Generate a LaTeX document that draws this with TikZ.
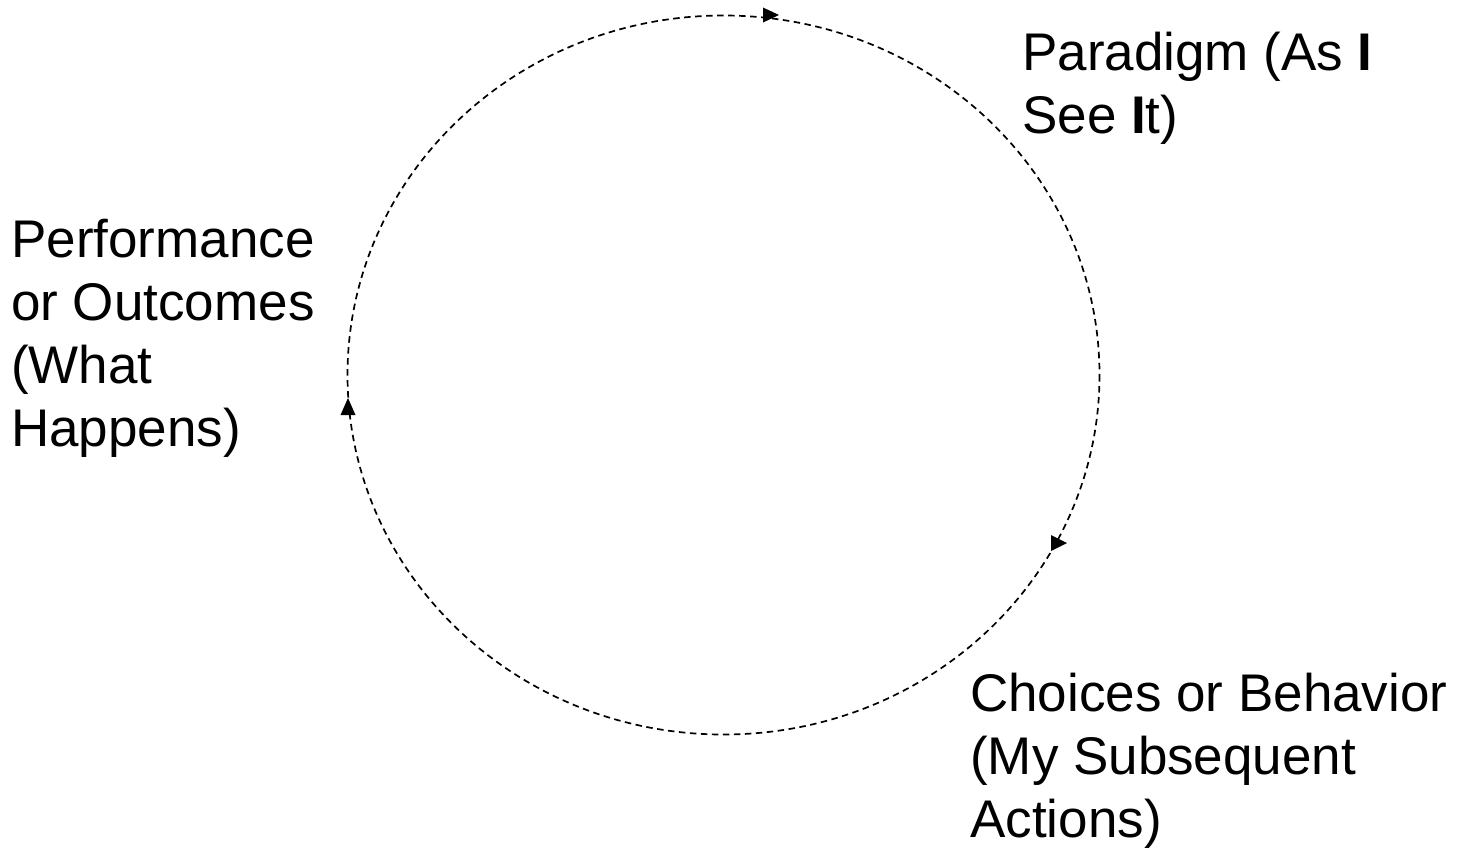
\documentclass[tikz,border=0pt]{standalone}
\usepackage{fontspec}
\setmainfont{Liberation Sans}
\begin{document}
\begin{tikzpicture}[x=1pt,y=-1pt,
  lbl/.style={anchor=base west,inner sep=0pt,align=left,font=\fontsize{53}{63}\selectfont},
  cyc/.style={draw=black,line width=1.7pt,dash pattern=on 6.5pt off 4.5pt},
  tip/.style={fill=black,draw=none}]
\useasboundingbox (0,0) rectangle (1458,855);
\draw[cyc] (723.5,375) ellipse [x radius=376, y radius=359.5];
\fill[tip] (779,15) -- (763,7.5) -- (763,22.5) -- cycle;
\fill[tip] (1067,543) -- (1051,535) -- (1051,551) -- cycle;
\fill[tip] (348,398) -- (340.5,415) -- (355.5,415) -- cycle;
\node[lbl] (perf) at (11,446) {Performance\\or Outcomes\\(What\\Happens)};
\node[lbl] (para) at (1022,133) {Paradigm (As \textbf{I}\\See \textbf{I}t)};
\node[lbl] (choi) at (970,837) {Choices or Behavior\\(My Subsequent\\Actions)};
\end{tikzpicture}
\end{document}
